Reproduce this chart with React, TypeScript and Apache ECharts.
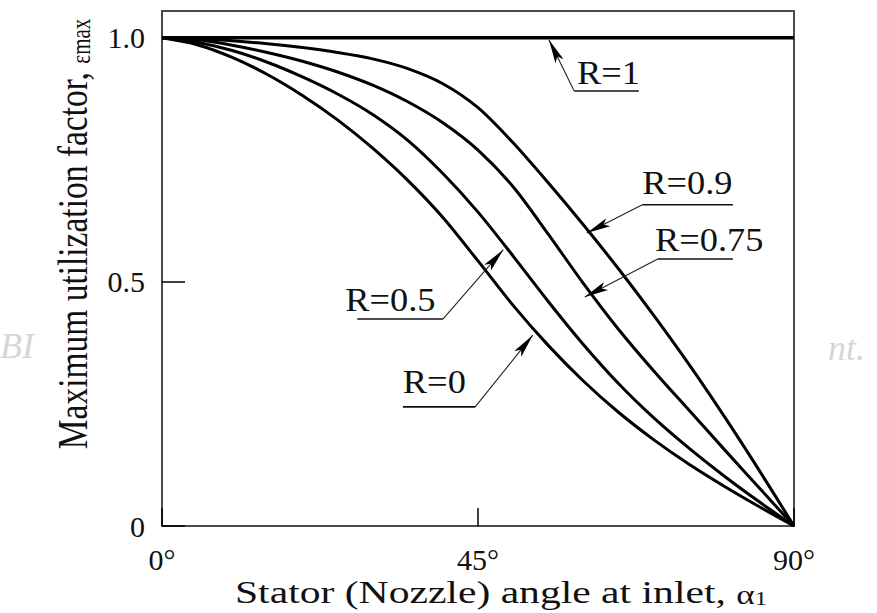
import React, { useEffect, useRef } from "react";
import * as echarts from "echarts";

// Stator angle at inlet (degrees)
const angles = [0, 5, 10, 15, 20, 25, 30, 35, 40, 45, 50, 55, 60, 65, 70, 75, 80, 85, 90];

// Maximum utilization factor, one list per degree of reaction R
const rOne = [1, 1, 1, 1, 1, 1, 1, 1, 1, 1, 1, 1, 1, 1, 1, 1, 1, 1, 1];
const rNinety = [1, 0.998, 0.994, 0.988, 0.98, 0.97, 0.957, 0.937, 0.906, 0.857, 0.785, 0.703, 0.617, 0.527, 0.432, 0.332, 0.226, 0.115, 0];
const rSeventyFive = [1, 0.996, 0.985, 0.97, 0.952, 0.93, 0.903, 0.869, 0.826, 0.77, 0.695, 0.598, 0.497, 0.403, 0.318, 0.238, 0.158, 0.079, 0];
const rHalf = [1, 0.991, 0.974, 0.95, 0.92, 0.885, 0.843, 0.79, 0.722, 0.643, 0.553, 0.46, 0.372, 0.292, 0.222, 0.16, 0.103, 0.05, 0];
const rZero = [1, 0.986, 0.96, 0.925, 0.882, 0.832, 0.774, 0.708, 0.632, 0.543, 0.452, 0.37, 0.297, 0.233, 0.177, 0.127, 0.082, 0.04, 0];

const seriesNames = ["R=1", "R=0.9", "R=0.75", "R=0.5", "R=0"];
const seriesValues = [rOne, rNinety, rSeventyFive, rHalf, rZero];

const xTickValues = [0, 45, 90];
const yTickValues = [0, 0.5, 1.0];
const yTickLabels = ["0", "0.5", "1.0"];

// Annotation labels: arrow tip, elbow, underline end, text anchor (data coordinates)
const annotationLabels = ["R=1", "R=0.9", "R=0.75", "R=0.5", "R=0"];
const annotationTips = [[55.1, 0.996], [60.5, 0.6], [60.2, 0.469], [48.6, 0.566], [52.8, 0.391]];
const annotationElbows = [[58.7, 0.891], [68.4, 0.658], [70.6, 0.547], [40.0, 0.424], [44.6, 0.244]];
const annotationEnds = [[67.9, 0.891], [81.3, 0.658], [81.3, 0.547], [27.8, 0.424], [34.3, 0.244]];
const annotationTextAt = [[59.1, 0.929], [68.4, 0.702], [70.2, 0.586], [26.1, 0.464], [34.3, 0.296]];

const FONT = "'Liberation Serif', serif";

export default function App() {
  const ref = useRef<HTMLDivElement>(null);

  useEffect(() => {
    if (!ref.current) return;
    const chart = echarts.init(ref.current, null, { renderer: "svg" });

    const series = seriesNames.map((name, i) => ({
      name,
      type: "line",
      data: angles.map((a, k) => [a, seriesValues[i][k]]),
      symbol: "none",
      smooth: i === 0 ? false : 0.3,
      lineStyle: { color: "#000", width: i === 0 ? 3.5 : 3 },
      z: 3,
    }));

    chart.setOption({
      animation: false,
      backgroundColor: "#fff",
      textStyle: { fontFamily: FONT },
      grid: {
        left: 162,
        right: 83,
        top: 11,
        bottom: 87,
        show: true,
        borderColor: "#4a4a4a",
        borderWidth: 2,
        backgroundColor: "transparent",
      },
      xAxis: {
        type: "value",
        min: 0,
        max: 90,
        interval: 45,
        axisLine: { show: false },
        splitLine: { show: false },
        axisTick: {
          show: true,
          inside: true,
          length: 18,
          customValues: xTickValues,
          lineStyle: { color: "#000", width: 1.5 },
        },
        axisLabel: {
          customValues: xTickValues,
          margin: 18,
          formatter: (v: number) => `${v}°`,
          fontFamily: FONT,
          fontSize: 30,
          color: "#111",
        },
      },
      yAxis: {
        type: "value",
        min: 0,
        max: 1.055,
        interval: 0.5,
        axisLine: { show: false },
        splitLine: { show: false },
        axisTick: {
          show: true,
          inside: true,
          length: 23,
          customValues: yTickValues,
          lineStyle: { color: "#000", width: 1.5 },
        },
        axisLabel: {
          customValues: yTickValues,
          margin: 17,
          formatter: (v: number) => {
            const idx = yTickValues.findIndex((t) => Math.abs(t - v) < 1e-6);
            return idx >= 0 ? yTickLabels[idx] : "";
          },
          fontFamily: FONT,
          fontSize: 30,
          color: "#111",
        },
      },
      series,
    });

    const toPx = (p: number[]) => chart.convertToPixel({ gridIndex: 0 }, p) as number[];
    const graphics: any[] = [];
    const L = 24;
    const W = 4.5;
    annotationLabels.forEach((label, i) => {
      const tip = toPx(annotationTips[i]);
      const elbow = toPx(annotationElbows[i]);
      const end = toPx(annotationEnds[i]);
      const txt = toPx(annotationTextAt[i]);
      const dx = elbow[0] - tip[0];
      const dy = elbow[1] - tip[1];
      const len = Math.hypot(dx, dy);
      const ux = dx / len;
      const uy = dy / len;
      const nx = -uy;
      const ny = ux;
      graphics.push({
        type: "line",
        shape: { x1: tip[0], y1: tip[1], x2: elbow[0], y2: elbow[1] },
        style: { stroke: "#222", lineWidth: 1.1 },
        z: 20,
      });
      graphics.push({
        type: "line",
        shape: { x1: elbow[0], y1: elbow[1], x2: end[0], y2: end[1] },
        style: { stroke: "#111", lineWidth: 1.6 },
        z: 20,
      });
      graphics.push({
        type: "polygon",
        shape: {
          points: [
            [tip[0], tip[1]],
            [tip[0] + ux * L + nx * W, tip[1] + uy * L + ny * W],
            [tip[0] + ux * L * 0.78, tip[1] + uy * L * 0.78],
            [tip[0] + ux * L - nx * W, tip[1] + uy * L - ny * W],
          ],
        },
        style: { fill: "#000" },
        z: 21,
      });
      graphics.push({
        type: "text",
        x: txt[0],
        y: txt[1],
        scaleX: 1.07,
        style: {
          text: label,
          fontFamily: FONT,
          fontSize: 34,
          fill: "#111",
          align: "left",
          verticalAlign: "middle",
        },
        z: 22,
      });
    });

    // Axis names
    graphics.push({
      type: "text",
      x: 73,
      y: 234,
      rotation: Math.PI / 2,
      scaleY: 1.25,
      style: {
        text: "Maximum utilization factor, {s|εmax}",
        fontFamily: FONT,
        fontSize: 33.5,
        fill: "#111",
        align: "center",
        verticalAlign: "middle",
        rich: {
          s: { fontFamily: FONT, fontSize: 21, fill: "#111", verticalAlign: "bottom" },
        },
      },
      z: 22,
    });
    graphics.push({
      type: "text",
      x: 501,
      y: 592,
      scaleX: 1.3,
      style: {
        text: "Stator (Nozzle) angle at inlet, {a|α}{s|1}",
        fontFamily: FONT,
        fontSize: 32,
        fill: "#111",
        align: "center",
        verticalAlign: "middle",
        rich: {
          a: { fontFamily: FONT, fontSize: 27, fill: "#111", verticalAlign: "bottom" },
          s: { fontFamily: FONT, fontSize: 19, fill: "#111", verticalAlign: "bottom" },
        },
      },
      z: 22,
    });
    // Faint watermark fragments
    graphics.push({
      type: "text",
      x: 0,
      y: 346,
      style: { text: "BI", fontFamily: FONT, fontStyle: "italic", fontSize: 36, fill: "#d6d6d6", align: "left", verticalAlign: "middle" },
      z: 1,
    });
    graphics.push({
      type: "text",
      x: 828,
      y: 348,
      style: { text: "nt.", fontFamily: FONT, fontStyle: "italic", fontSize: 36, fill: "#d6d6d6", align: "left", verticalAlign: "middle" },
      z: 1,
    });

    chart.setOption({ graphic: graphics });

    return () => chart.dispose();
  }, []);

  return (
    <div
      ref={ref}
      style={{ position: "fixed", left: 0, top: 0, width: 877, height: 613, background: "#fff" }}
    />
  );
}
